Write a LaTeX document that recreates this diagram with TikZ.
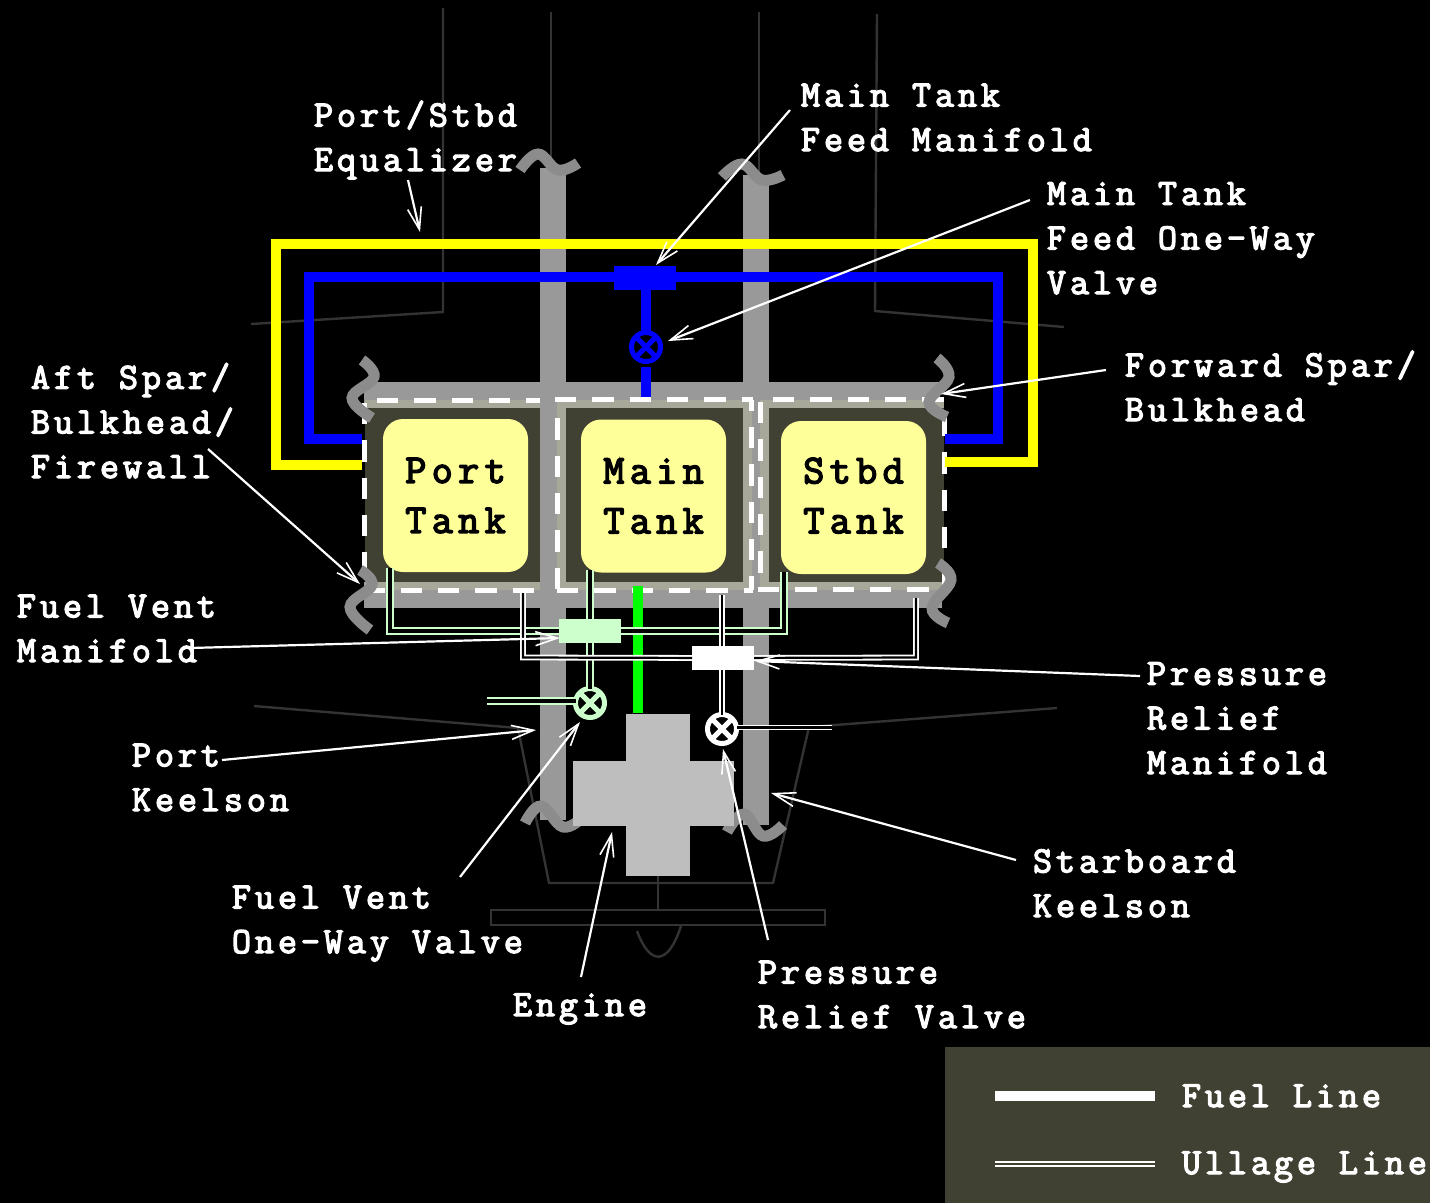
\documentclass[tikz,border=0pt]{standalone}
\usepackage{fontspec}
\usepackage{xcolor}
\usetikzlibrary{arrows.meta,positioning}
\newfontfamily\lblfont[LetterSpace=10.6,FakeBold=3.5]{Latin Modern Mono}
\definecolor{hullgray}{HTML}{333333}
\definecolor{sparcol}{HTML}{999999}
\definecolor{brkcol}{HTML}{8C8C8C}
\definecolor{tankdark}{HTML}{404033}
\definecolor{tankband}{HTML}{A8A89A}
\definecolor{tankfill}{HTML}{FFFF99}
\definecolor{ventcol}{HTML}{CCFFCC}
\definecolor{engcol}{HTML}{BEBEBE}
\definecolor{eqcol}{HTML}{FFFF00}
\definecolor{feedcol}{HTML}{0000FF}
\definecolor{enginefeed}{HTML}{00FF00}
\begin{document}
\begin{tikzpicture}[x=1pt, y=-1pt, every node/.style={inner sep=0pt, outer sep=0pt}]
\tikzset{hull/.style={draw=hullgray, line width=2.4pt}}
\tikzset{brk/.style={draw=brkcol, line width=11pt, smooth, tension=0.7}}
\tikzset{spar/.style={draw=sparcol, line width=26pt}}
\tikzset{dashln/.style={draw=white, line width=5pt, dash pattern=on 21.3pt off 16pt}}
\tikzset{band/.style={fill=tankband, rectangle}}
\tikzset{inner/.style={fill=tankdark, rectangle}}
\tikzset{tank/.style={fill=tankfill, rounded corners=20pt, minimum width=145pt, minimum height=153pt, align=center, text=black, font=\fontsize{41}{50}\lblfont\addfontfeature{LetterSpace=13}}}
\tikzset{ullage/.style={draw=ventcol, line width=2pt, double=black, double distance=3.4pt}}
\tikzset{relief/.style={draw=white, line width=1.8pt, double=black, double distance=2.2pt}}
\tikzset{box/.style={rectangle, minimum width=62pt, minimum height=24pt}}
\tikzset{valve/.style={circle, draw=#1, line width=5pt, minimum size=29pt, fill=black, path picture={\draw[#1, line width=5pt] (path picture bounding box.north west)--(path picture bounding box.south east) (path picture bounding box.north east)--(path picture bounding box.south west);}}}
\tikzset{lbl/.style={anchor=base west, align=left, text=white, font=\fontsize{37}{44.6}\lblfont}}
\tikzset{callout/.style={draw=white, line width=2.2pt, -{Straight Barb[length=22pt, width=14pt, line width=1.6pt]}}}
% background and margins
\fill[black] (0,0) rectangle (1430,1203);
\useasboundingbox (0,0) rectangle (1430,1203);
% hull outline
\draw[hull] (443,8) -- (443,312) -- (251,324);
\draw[hull] (551,12) -- (551,168);
\draw[hull] (759,12) -- (759,172);
\draw[hull] (877,14) -- (875,311) -- (1064,327);
\draw[hull] (254,706) -- (518,728) -- (549,883) -- (773,883) -- (809,727) -- (1057,708);
\draw[hull] (658,876) -- (658,910);
\draw[hull] (491,910) rectangle (825,925);
\draw[hull] (637,931) .. controls (650,966) and (668,966) .. (681,926);
% spars and tanks
\draw[spar] (364,395) -- (940,395);
\draw[spar] (364,595) -- (942,595);
\node[band] (portband) at (452.5,495) [minimum width=175pt, minimum height=190pt] {};
\node[inner] (portin) at (452.5,495) [minimum width=175pt, minimum height=174pt] {};
\draw[dashln, dash phase=24.3] (364,400) -- (540,400);
\draw[dashln, dash phase=34.3] (364,400) -- (364,590) -- (540,590);
\draw[spar] (553,168) -- (553,820);
\draw[spar] (756,175) -- (756,825);
\node[band] (mainband) at (654.5,495) [minimum width=195pt, minimum height=190pt] {};
\node[inner] (mainin) at (654.5,495) [minimum width=177pt, minimum height=174pt] {};
\draw[dashln] (555,399.5) -- (753,399.5);
\draw[dashln, dash phase=19] (557,400) -- (557,590);
\draw[dashln] (557,590) -- (753,590);
\draw[dashln, dash phase=10.4] (751,400) -- (751,590);
\node[band] (stbdband) at (852,495) [minimum width=184pt, minimum height=190pt] {};
\node[inner] (stbdin) at (856.5,495) [minimum width=175pt, minimum height=174pt] {};
\draw[dashln, dash phase=24.3] (760,399) -- (944,399);
\draw[dashln, dash phase=35.3] (760,400) -- (760,590);
\draw[dashln] (758,589) -- (935,589);
\draw[dashln, dash phase=22.3] (944,400) -- (944,590);
\node[tank] (port) at (455.5,495.5) {Port\\Tank};
\node[tank] (main) at (653.5,496) {Main\\Tank};
\node[tank, text depth=4pt] (stbd) at (853.5,497.5) {Stbd\\Tank};
% breaks in the spars and keelsons
\draw[brk] plot coordinates {(520,170) (538,154) (558,170) (578,163)};
\draw[brk] plot coordinates {(722,177) (742,164) (762,180) (783,175)};
\draw[brk] plot coordinates {(525,823) (541,806) (563,827) (583,817)};
\draw[brk] plot coordinates {(727,832) (744,814) (763,836) (783,825)};
\draw[brk] plot coordinates {(362,360) (374,377) (352,398) (372,418)};
\draw[brk] plot coordinates {(360,570) (372,585) (350,607) (370,630)};
\draw[brk] plot coordinates {(937,358) (949,377) (929,402) (947,417)};
\draw[brk] plot coordinates {(938,563) (951,580) (932,608) (948,623)};
% engine
\fill[engcol] (626,714) rectangle (690,876);
\fill[engcol] (573,761) rectangle (734,826);
% fuel lines
\draw[eqcol, line width=10pt] (362,465) -- (276,465) -- (276,244) -- (1033,244) -- (1033,462) -- (945,462);
\draw[feedcol, line width=10.5pt] (362,439) -- (309,439) -- (309,277) -- (998,277) -- (998,439) -- (945,439);
\node[box, fill=feedcol] (feedman) at (645,277.5) {};
\node[valve=feedcol] (feedvlv) at (646,347) {};
\coordinate (feedtop) at (646,397);
\coordinate (feedlow) at (646,367);
\draw[feedcol, line width=10pt] (feedman.south -| feedvlv) -- (feedvlv);
\draw[feedcol, line width=10pt] (feedlow) -- (feedtop);
\draw[enginefeed, line width=10.5pt] (638,586) -- (638,713);
% ullage lines
\node[box, fill=ventcol] (ventman) at (590,631) {};
\node[box, fill=white] (reliefman) at (723,658) {};
\node[valve=ventcol] (ventvlv) at (590,703) {};
\node[valve=white] (reliefvlv) at (722,729) {};
\coordinate (ventend) at (487,701);
\coordinate (reliefend) at (832,727.5);
\draw[ullage] (390,568) -- (390,631) -- (ventman);
\draw[ullage] (ventman) -- (784,631) -- (784,572);
\draw[ullage] (590,570) -- (ventman);
\draw[ullage] (ventman) -- (ventvlv);
\draw[ullage] (ventvlv.west |- ventend) -- (ventend);
\draw[relief] (523,593) -- (523,657.5) -- (reliefman);
\draw[relief] (reliefman) -- (916,657.5) -- (916,598);
\draw[relief] (722,595) -- (reliefman.north -| reliefvlv);
\draw[relief] (reliefman.south -| reliefvlv) -- (reliefvlv);
\draw[relief] (reliefvlv.east |- reliefend) -- (reliefend);
% labels
\node[lbl] (lequal) at (314,171) {Port/Stbd\\Equalizer};
\node[lbl] (lfeedman) at (801,151) {Main Tank\\Feed Manifold};
\node[lbl] (lfeedvlv) at (1047,294) {Main Tank\\Feed One-Way\\Valve};
\node[lbl] (laft) at (31,478) {Aft Spar/\\Bulkhead/\\Firewall};
\node[lbl] (lfwd) at (1125,421) {Forward Spar/\\Bulkhead};
\node[lbl] (lventman) at (17,662) {Fuel Vent\\Manifold};
\node[lbl] (lreliefman) at (1147,774) {Pressure\\Relief\\Manifold};
\node[lbl] (lportk) at (132,811) {Port\\Keelson};
\node[lbl] (lventvlv) at (232,953) {Fuel Vent\\One-Way Valve};
\node[lbl] (lengine) at (513,1016) {Engine};
\node[lbl] (lreliefvlv) at (758,1028) {Pressure\\Relief Valve};
\node[lbl] (lstbdk) at (1033,917) {Starboard\\Keelson};
% callouts
\coordinate (aequal) at (408,180); \coordinate (tequal) at (420,232);
\coordinate (afeedman) at (790,110); \coordinate (tfeedman) at (656,265);
\coordinate (afeedvlv) at (1030,200); \coordinate (tfeedvlv) at (668,341);
\coordinate (aaft) at (208,449); \coordinate (taft) at (360,584);
\coordinate (afwd) at (1106,370); \coordinate (tfwd) at (941,394);
\coordinate (aventman) at (190,648); \coordinate (tventman) at (560,638);
\coordinate (areliefman) at (1140,676); \coordinate (treliefman) at (755,661);
\coordinate (aportk) at (222,760); \coordinate (tportk) at (536,730);
\coordinate (aventvlv) at (460,877); \coordinate (tventvlv) at (580,722);
\coordinate (aengine) at (581,977); \coordinate (tengine) at (612,832);
\coordinate (areliefvlv) at (768,940); \coordinate (treliefvlv) at (723,749);
\coordinate (astbdk) at (1016,860); \coordinate (tstbdk) at (771,793);
\foreach \nm in {equal,feedman,feedvlv,aft,fwd,ventman,reliefman,portk,ventvlv,engine,reliefvlv,stbdk}
  \draw[callout] (a\nm) -- (t\nm);
% legend
\node[fill=tankdark, rectangle, minimum width=485pt, minimum height=156pt] (legend) at (1187.5,1125) {};
\coordinate (fuelA) at (995,1096); \coordinate (fuelB) at (1155,1096);
\coordinate (ullA) at (995,1164); \coordinate (ullB) at (1155,1164);
\draw[white, line width=10pt] (fuelA) -- (fuelB);
\draw[draw=white, line width=1.6pt, double=tankdark, double distance=2.4pt] (ullA) -- (ullB);
\node[lbl] (lfuel) at (1182,1107) {Fuel Line};
\node[lbl] (lull) at (1182,1174) {Ullage Line};
\end{tikzpicture}
\end{document}
